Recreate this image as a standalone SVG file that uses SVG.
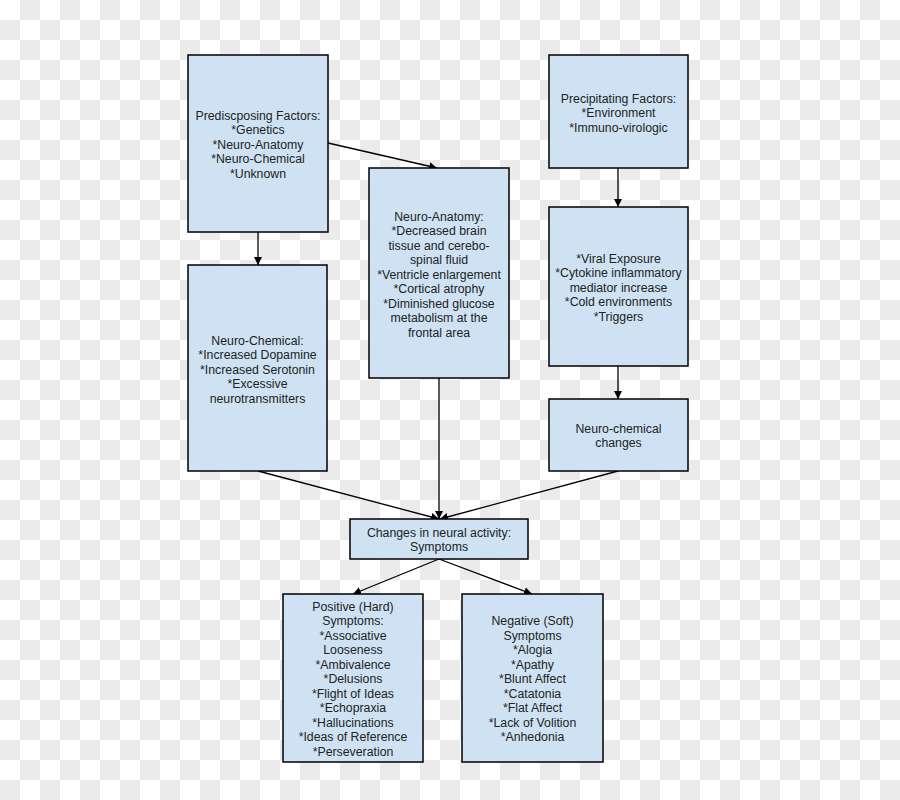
<svg xmlns="http://www.w3.org/2000/svg" width="900" height="800" viewBox="0 0 900 800">
<defs>
<pattern id="checker" x="0" y="0" width="40" height="40" patternUnits="userSpaceOnUse">
<rect width="40" height="40" fill="#ffffff"/>
<rect x="20" y="0" width="20" height="20" fill="#ebebeb"/>
<rect x="0" y="20" width="20" height="20" fill="#ebebeb"/>
</pattern>
<marker id="arr" viewBox="0 0 10 10" refX="10" refY="5" markerWidth="8" markerHeight="8" markerUnits="userSpaceOnUse" orient="auto">
<path d="M0,0 L10,5 L0,10 z" fill="#000"/>
</marker>
<style>
.box{fill:#cfe2f3;stroke:#000;stroke-width:1.5}
.t{font-family:"Liberation Sans",Arial,sans-serif;font-size:12.3px;fill:#222;text-anchor:middle}
.c{stroke:#000;stroke-width:1.3;fill:none;marker-end:url(#arr)}
</style>
</defs>
<rect width="900" height="800" fill="url(#checker)"/>
<g id="connectors">
<line class="c" x1="328" y1="143" x2="437" y2="168"/>
<line class="c" x1="258" y1="232" x2="258" y2="265"/>
<line class="c" x1="618" y1="168" x2="618" y2="207"/>
<line class="c" x1="618" y1="366" x2="618" y2="399"/>
<line class="c" x1="258" y1="471" x2="439" y2="519"/>
<line class="c" x1="439" y1="378" x2="439" y2="519"/>
<line class="c" x1="618" y1="471" x2="440" y2="519"/>
<line class="c" x1="439" y1="559" x2="353" y2="594"/>
<line class="c" x1="439" y1="559" x2="532" y2="594"/>
</g>
<g id="predisposing">
<rect class="box" x="188" y="55" width="140" height="177"/>
<text class="t" x="258" y="119.5">Prediscposing Factors:</text>
<text class="t" x="258" y="134">*Genetics</text>
<text class="t" x="258" y="148.5">*Neuro-Anatomy</text>
<text class="t" x="258" y="163">*Neuro-Chemical</text>
<text class="t" x="258" y="177.5">*Unknown</text>
</g>
<g id="precipitating">
<rect class="box" x="549" y="55" width="139" height="113"/>
<text class="t" x="618.5" y="102.5">Precipitating Factors:</text>
<text class="t" x="618.5" y="117">*Environment</text>
<text class="t" x="618.5" y="131.5">*Immuno-virologic</text>
</g>
<g id="neuro-anatomy">
<rect class="box" x="369" y="168" width="140" height="210"/>
<text class="t" x="439" y="220.5">Neuro-Anatomy:</text>
<text class="t" x="439" y="235">*Decreased brain</text>
<text class="t" x="439" y="249.5">tissue and cerebo-</text>
<text class="t" x="439" y="264">spinal fluid</text>
<text class="t" x="439" y="278.5">*Ventricle enlargement</text>
<text class="t" x="439" y="293">*Cortical atrophy</text>
<text class="t" x="439" y="307.5">*Diminished glucose</text>
<text class="t" x="439" y="322">metabolism at the</text>
<text class="t" x="439" y="336.5">frontal area</text>
</g>
<g id="viral">
<rect class="box" x="549" y="207" width="139" height="159"/>
<text class="t" x="618.5" y="262.5">*Viral Exposure</text>
<text class="t" x="618.5" y="277">*Cytokine inflammatory</text>
<text class="t" x="618.5" y="291.5">mediator increase</text>
<text class="t" x="618.5" y="306">*Cold environments</text>
<text class="t" x="618.5" y="320.5">*Triggers</text>
</g>
<g id="neuro-chemical">
<rect class="box" x="188" y="265" width="139" height="206"/>
<text class="t" x="257.5" y="344.5">Neuro-Chemical:</text>
<text class="t" x="257.5" y="359">*Increased Dopamine</text>
<text class="t" x="257.5" y="373.5">*Increased Serotonin</text>
<text class="t" x="257.5" y="388">*Excessive</text>
<text class="t" x="257.5" y="402.5">neurotransmitters</text>
</g>
<g id="neuro-chemical-changes">
<rect class="box" x="549" y="399" width="139" height="72"/>
<text class="t" x="618.5" y="432.5">Neuro-chemical</text>
<text class="t" x="618.5" y="447">changes</text>
</g>
<g id="changes">
<rect class="box" x="350" y="519" width="178" height="40"/>
<text class="t" x="439" y="536.5">Changes in neural activity:</text>
<text class="t" x="439" y="551">Symptoms</text>
</g>
<g id="positive">
<rect class="box" x="283" y="594" width="140" height="168"/>
<text class="t" x="353" y="610.5">Positive (Hard)</text>
<text class="t" x="353" y="625">Symptoms:</text>
<text class="t" x="353" y="639.5">*Associative</text>
<text class="t" x="353" y="654">Looseness</text>
<text class="t" x="353" y="668.5">*Ambivalence</text>
<text class="t" x="353" y="683">*Delusions</text>
<text class="t" x="353" y="697.5">*Flight of Ideas</text>
<text class="t" x="353" y="712">*Echopraxia</text>
<text class="t" x="353" y="726.5">*Hallucinations</text>
<text class="t" x="353" y="741">*Ideas of Reference</text>
<text class="t" x="353" y="755.5">*Perseveration</text>
</g>
<g id="negative">
<rect class="box" x="462" y="594" width="141" height="168"/>
<text class="t" x="532.5" y="625">Negative (Soft)</text>
<text class="t" x="532.5" y="639.5">Symptoms</text>
<text class="t" x="532.5" y="654">*Alogia</text>
<text class="t" x="532.5" y="668.5">*Apathy</text>
<text class="t" x="532.5" y="683">*Blunt Affect</text>
<text class="t" x="532.5" y="697.5">*Catatonia</text>
<text class="t" x="532.5" y="712">*Flat Affect</text>
<text class="t" x="532.5" y="726.5">*Lack of Volition</text>
<text class="t" x="532.5" y="741">*Anhedonia</text>
</g>
</svg>
